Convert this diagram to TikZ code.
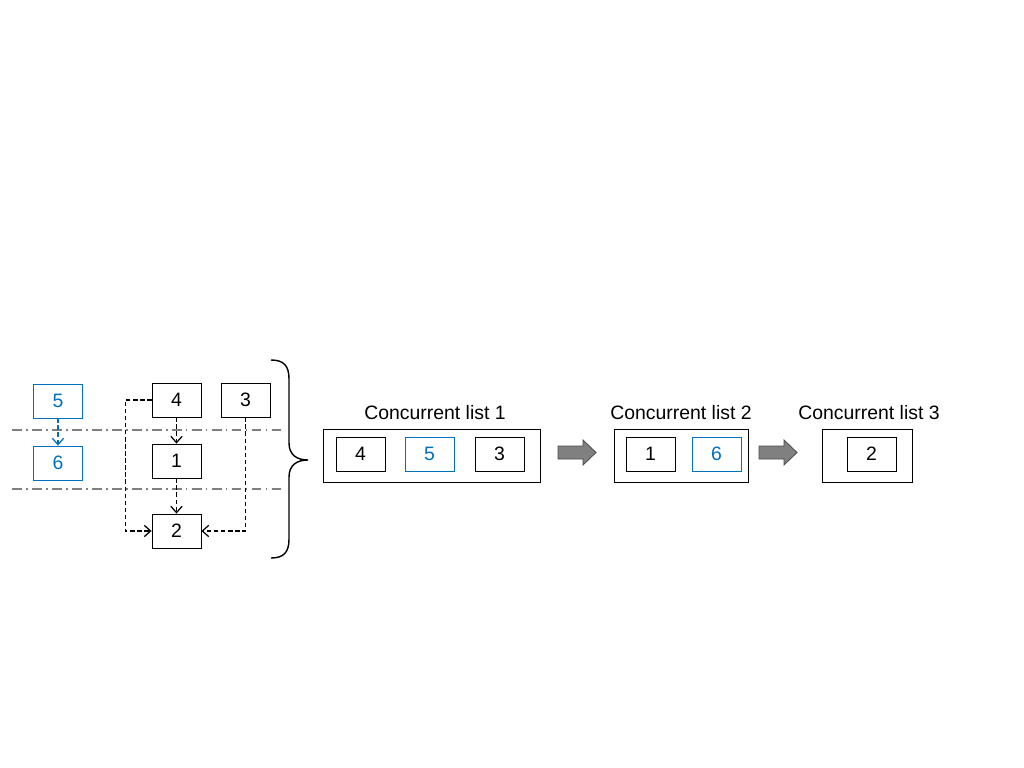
\documentclass[tikz,border=0pt]{standalone}
\usepackage{fontspec}
\setmainfont{Liberation Sans}
\usetikzlibrary{arrows.meta}
\definecolor{taskblue}{RGB}{0,112,192}
\definecolor{arrowgray}{RGB}{128,128,128}
\tikzset{
  task/.style={draw=black, line width=0.6pt, minimum width=1.225cm, minimum height=0.85cm,
    inner sep=0pt, font=\fontsize{13.8}{16}\selectfont},
  bluetask/.style={task, draw=taskblue, text=taskblue},
  listbox/.style={draw=black, line width=0.6pt, minimum height=1.325cm, inner sep=0pt},
  listlabel/.style={font=\fontsize{13.8}{16}\selectfont, inner sep=0pt},
  dep/.style={-{Straight Barb[length=4.5pt,width=8pt,line width=0.9pt]}, dash pattern=on 3pt off 2pt, line width=0.9pt},
  sepline/.style={dash pattern=on 7pt off 3pt on 1.2pt off 3pt, line width=0.8pt, color=arrowgray}
}
\begin{document}
\begin{tikzpicture}[x=0.025cm, y=-0.025cm]
  \useasboundingbox (0,0) rectangle (1024,768);

  % dependency graph
  \draw [sepline] (12,430) -- (283,430);
  \draw [sepline] (12,489) -- (283,489);

  \node [bluetask] (t5) at (58,401) {5};
  \node [bluetask] (t6) at (58,463) {6};
  \node [task] (t4) at (176.5,400) {4};
  \node [task] (t3) at (245.5,400) {3};
  \node [task] (t1) at (176.5,461) {1};
  \node [task] (t2) at (176.5,531) {2};

  \draw [dep, color=taskblue] (t5.south) -- (t6.north);
  \draw [dep] (t4.south) -- (t1.north);
  \draw [dep] (t1.south) -- (t2.north);
  \draw [dep] (t4.west) -- ++(-26,0) |- (t2.west);
  \draw [dep] (t3.south) |- (t2.east);

  % brace
  \draw [line width=1pt]
    (271,360) .. controls (284,360) and (289,366) .. (289,379)
    -- (289,443) .. controls (289,455) and (297,460) .. (308,460)
    .. controls (297,460) and (289,465) .. (289,477)
    -- (289,539) .. controls (289,552) and (284,558) .. (271,558);

  % concurrent lists
  \node [listbox, minimum width=5.425cm] (list1) at (431.5,455.5) {};
  \node [listbox, minimum width=3.35cm] (list2) at (681,455.5) {};
  \node [listbox, minimum width=2.25cm] (list3) at (867,455.5) {};

  \node [listlabel] (lab1) at (435,413) {Concurrent list 1};
  \node [listlabel] (lab2) at (681,413) {Concurrent list 2};
  \node [listlabel] (lab3) at (869,413) {Concurrent list 3};

  \node [task] (c4) at (360.5,454) {4};
  \node [bluetask] (c5) at (429.5,454) {5};
  \node [task] (c3) at (499.5,454) {3};
  \node [task] (c1) at (650.5,454) {1};
  \node [bluetask] (c6) at (716.5,454) {6};
  \node [task] (c2) at (871.5,454) {2};

  % block arrows between lists
  \foreach \ax in {558,759}
    \draw [fill=arrowgray, draw=black!70, line width=0.6pt, shift={(\ax,452.5)}]
      (0,-6.5) -- (25,-6.5) -- (25,-12.5) -- (38,0) -- (25,12.5) -- (25,6.5) -- (0,6.5) -- cycle;
\end{tikzpicture}
\end{document}
